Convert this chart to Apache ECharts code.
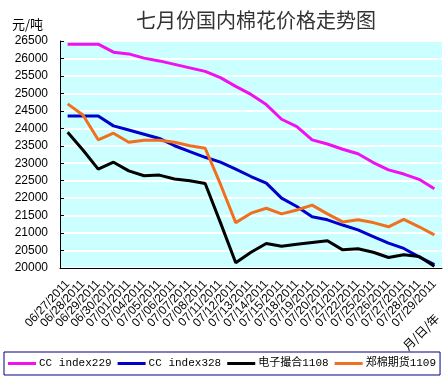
<!DOCTYPE html>
<html><head><meta charset="utf-8">
<script src="https://cdn.jsdelivr.net/npm/echarts@6/dist/echarts.min.js"></script>
<style>html,body{margin:0;padding:0;background:#fff}#c{width:447px;height:382px}</style>
</head><body><div id="c"></div>
<script>
const categories = ["06/27/2011","06/28/2011","06/29/2011","06/30/2011","07/01/2011","07/04/2011","07/05/2011","07/06/2011","07/07/2011","07/08/2011","07/11/2011","07/12/2011","07/13/2011","07/14/2011","07/15/2011","07/18/2011","07/19/2011","07/20/2011","07/21/2011","07/22/2011","07/25/2011","07/26/2011","07/27/2011","07/28/2011","07/29/2011"];
const ccIndex229 = [26410,26410,26410,26180,26130,26010,25930,25830,25730,25630,25450,25200,24970,24680,24260,24050,23670,23550,23400,23270,23020,22810,22690,22540,22270];
const ccIndex328 = [24350,24350,24350,24070,23950,23830,23710,23500,23330,23170,23030,22830,22620,22430,22000,21760,21470,21380,21230,21090,20900,20710,20560,20320,20100];
const dianzi1108 = [23890,23380,22830,23030,22780,22640,22660,22550,22500,22420,21300,20150,20450,20700,20620,20680,20730,20780,20520,20550,20450,20300,20380,20330,20050];
const zhengmian1109 = [24700,24380,23670,23860,23600,23660,23660,23600,23500,23430,22400,21300,21570,21710,21550,21660,21800,21550,21320,21380,21300,21180,21390,21180,20950];
const seriesNames = ["CC index229","CC index328","电子撮合1108","郑棉期货1109"];
const seriesColors = ["#F010F0","#0000CC","#000000","#F07020"];
const yMin = 20000, yMax = 26500, yStep = 500;

const chart = echarts.init(document.getElementById('c'), null, {renderer:'canvas'});
const dataSets = [ccIndex229, ccIndex328, dianzi1108, zhengmian1109];
chart.setOption({
  animation:false,
  backgroundColor:'#fff',
  title:{text:'七月份国内棉花价格走势图', left:131, top:5,
    textStyle:{fontFamily:'Noto Sans CJK SC', fontSize:20, fontWeight:'normal', color:'#333'}},
  graphic:[
    {type:'text', left:12, top:18, style:{text:'元/吨', font:'13px "Noto Sans CJK SC"', fill:'#000'}},
    {type:'text', x:421, y:332, rotation:Math.PI/4,
      style:{text:'月/日/年', font:'12px "Noto Sans CJK SC"', fill:'#000', align:'center', verticalAlign:'middle'}}
  ],
  legend:{left:4, top:352, padding:[6,4,6,4], itemGap:6, itemWidth:28, itemHeight:3, icon:'rect',
    borderColor:'#000080', borderWidth:1,
    textStyle:{fontFamily:'Liberation Mono, Noto Sans CJK SC', fontSize:11, color:'#000', padding:[0,0,0,-2]},
    data:seriesNames},
  grid:{left:60, right:5, top:41, bottom:114, show:true, backgroundColor:'#CCFFFF', borderWidth:0},
  xAxis:{type:'category', data:categories, boundaryGap:true,
    axisLine:{lineStyle:{color:'#000', width:1}},
    axisTick:{inside:true, length:4, lineStyle:{color:'#000'}},
    axisLabel:{interval:0, rotate:47, fontFamily:'Liberation Sans', fontSize:12, color:'#000', margin:14}},
  yAxis:{type:'value', min:yMin, max:yMax, interval:yStep,
    axisLine:{show:true, lineStyle:{color:'#000', width:1}},
    axisTick:{show:true, inside:true, length:4, lineStyle:{color:'#000'}},
    axisLabel:{fontFamily:'Liberation Sans', fontSize:12, color:'#000', margin:12, formatter:(v)=>String(v)},
    splitLine:{show:true, lineStyle:{color:'#fff', width:2}}},
  series: seriesNames.map((n,i)=>({name:n, type:'line', data:dataSets[i], showSymbol:false, symbol:'none',
    lineStyle:{color:seriesColors[i], width:3}, itemStyle:{color:seriesColors[i]}}))
});
</script></body></html>
